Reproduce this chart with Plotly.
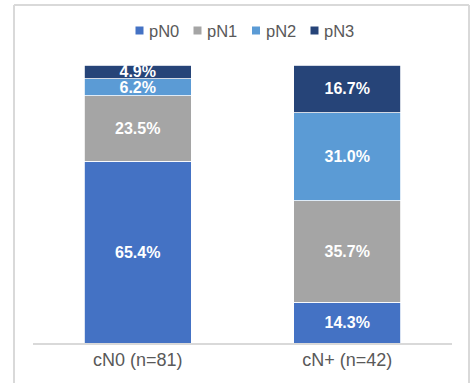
import plotly.graph_objects as go

# 100% stacked bars: pathological N stage by clinical N status
categories = ["cN0 (n=81)", "cN+ (n=42)"]
series_names = ["pN0", "pN1", "pN2", "pN3"]
pN0 = [65.4, 14.3]
pN1 = [23.5, 35.7]
pN2 = [6.2, 31.0]
pN3 = [4.9, 16.7]
series_values = [pN0, pN1, pN2, pN3]
colors = ["#4472C4", "#A5A5A5", "#5B9BD5", "#264478"]

W, H = 471, 383
M = dict(l=33, r=19, t=65, b=40)
PW = W - M["l"] - M["r"]
PH = H - M["t"] - M["b"]


def px_x(x):
    return (x - M["l"]) / PW


def px_y(y):
    return (H - M["b"] - y) / PH


FONT = "Liberation Sans, Arial, sans-serif"
TEXT_GREY = "#595959"
FRAME_GREY = "#D9D9D9"

fig = go.Figure()
for name, vals, col in zip(series_names, series_values, colors):
    fig.add_trace(go.Bar(
        x=categories,
        y=vals,
        text=vals,
        name=name,
        marker=dict(color=col, line=dict(color="white", width=0.8)),
        texttemplate="%{text:.1f}%",
        textposition="inside",
        insidetextanchor="middle",
        textangle=0,
        insidetextfont=dict(family=FONT, size=16, color="white", weight="bold"),
        showlegend=False,
        hoverinfo="skip",
    ))

# Compact legend row above the bars
legend_x = [139.5, 197.5, 256, 314.5]
legend_y = 30.5
for name, col, lx in zip(series_names, colors, legend_x):
    fig.add_shape(
        type="rect", xref="paper", yref="paper",
        xsizemode="pixel", ysizemode="pixel",
        xanchor=px_x(lx), yanchor=px_y(legend_y),
        x0=-4, x1=4, y0=-4, y1=4,
        fillcolor=col, line_width=0,
    )
    fig.add_annotation(
        xref="paper", yref="paper",
        x=px_x(lx + 7.5), y=px_y(legend_y),
        xanchor="left", yanchor="middle",
        text=name, showarrow=False,
        font=dict(family=FONT, size=16.5, color=TEXT_GREY),
    )

# Light frame around the chart (open at the bottom edge)
frame = [
    (14, 5, 469, 5),
    (14, 5, 14, 400),
    (469, 5, 469, 400),
]
for x0, y0, x1, y1 in frame:
    fig.add_shape(
        type="line", xref="paper", yref="paper",
        x0=px_x(x0), y0=px_y(y0), x1=px_x(x1), y1=px_y(y1),
        line=dict(color=FRAME_GREY, width=2),
    )

fig.update_layout(
    barmode="stack",
    barnorm="percent",
    bargap=0.49,
    width=W,
    height=H,
    margin=M,
    paper_bgcolor="white",
    plot_bgcolor="white",
    uniformtext=dict(minsize=16, mode="show"),
    font=dict(family=FONT, color=TEXT_GREY),
    xaxis=dict(
        showline=True, linecolor=FRAME_GREY, linewidth=1.5,
        ticks="", showgrid=False, zeroline=False,
        tickfont=dict(family=FONT, size=18, color=TEXT_GREY),
        fixedrange=True,
    ),
    yaxis=dict(range=[0, 100], visible=False, fixedrange=True),
)

fig.write_html("out.html", config={"displayModeBar": False})
